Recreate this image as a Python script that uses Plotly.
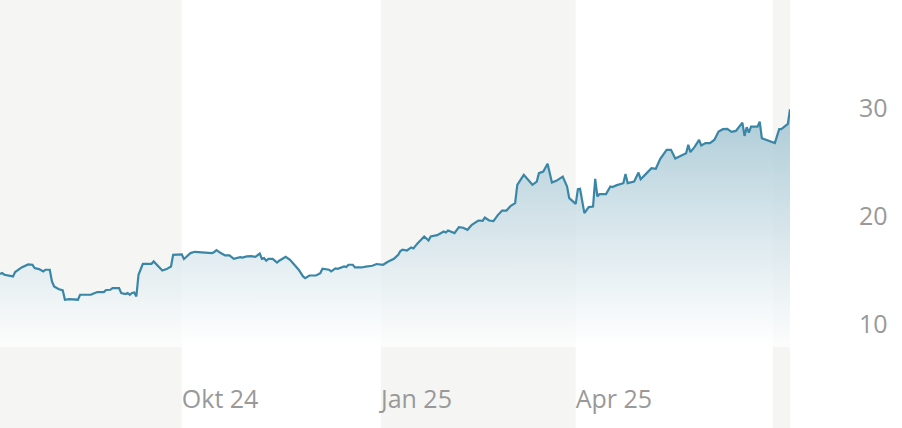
import plotly.graph_objects as go

dates = [
    "2024-07-09", "2024-07-10", "2024-07-11", "2024-07-15", "2024-07-16", "2024-07-19",
    "2024-07-22", "2024-07-24", "2024-07-25", "2024-07-27", "2024-07-29", "2024-07-30",
    "2024-08-01", "2024-08-02", "2024-08-03", "2024-08-05", "2024-08-07", "2024-08-08",
    "2024-08-10", "2024-08-13", "2024-08-14", "2024-08-15", "2024-08-18", "2024-08-20",
    "2024-08-21", "2024-08-23", "2024-08-26", "2024-08-27", "2024-08-29", "2024-08-30",
    "2024-09-02", "2024-09-03", "2024-09-05", "2024-09-06", "2024-09-07", "2024-09-08",
    "2024-09-09", "2024-09-10", "2024-09-11", "2024-09-13", "2024-09-15", "2024-09-17",
    "2024-09-18", "2024-09-21", "2024-09-22", "2024-09-24", "2024-09-26", "2024-09-27",
    "2024-09-29", "2024-10-01", "2024-10-02", "2024-10-05", "2024-10-07", "2024-10-09",
    "2024-10-12", "2024-10-15", "2024-10-16", "2024-10-17", "2024-10-19", "2024-10-21",
    "2024-10-23", "2024-10-25", "2024-10-28", "2024-10-29", "2024-10-31", "2024-11-02",
    "2024-11-04", "2024-11-06", "2024-11-07", "2024-11-08", "2024-11-09", "2024-11-10",
    "2024-11-12", "2024-11-14", "2024-11-15", "2024-11-18", "2024-11-20", "2024-11-22",
    "2024-11-24", "2024-11-26", "2024-11-27", "2024-11-29", "2024-12-02", "2024-12-04",
    "2024-12-05", "2024-12-08", "2024-12-09", "2024-12-11", "2024-12-12", "2024-12-15",
    "2024-12-16", "2024-12-17", "2024-12-19", "2024-12-20", "2024-12-23", "2024-12-25",
    "2024-12-28", "2024-12-30", "2025-01-02", "2025-01-04", "2025-01-07", "2025-01-09",
    "2025-01-10", "2025-01-11", "2025-01-13", "2025-01-15", "2025-01-16", "2025-01-18",
    "2025-01-21", "2025-01-23", "2025-01-24", "2025-01-27", "2025-01-29", "2025-01-30",
    "2025-01-31", "2025-02-01", "2025-02-04", "2025-02-06", "2025-02-08", "2025-02-10",
    "2025-02-12", "2025-02-15", "2025-02-17", "2025-02-18", "2025-02-20", "2025-02-22",
    "2025-02-24", "2025-02-26", "2025-02-28", "2025-03-02", "2025-03-04", "2025-03-05",
    "2025-03-08", "2025-03-10", "2025-03-12", "2025-03-14", "2025-03-15", "2025-03-17",
    "2025-03-19", "2025-03-21", "2025-03-23", "2025-03-26", "2025-03-28", "2025-03-29",
    "2025-04-01", "2025-04-02", "2025-04-03", "2025-04-05", "2025-04-07", "2025-04-09",
    "2025-04-10", "2025-04-11", "2025-04-12", "2025-04-15", "2025-04-17", "2025-04-18",
    "2025-04-20", "2025-04-23", "2025-04-24", "2025-04-25", "2025-04-28", "2025-04-30",
    "2025-05-01", "2025-05-03", "2025-05-06", "2025-05-08", "2025-05-10", "2025-05-13",
    "2025-05-15", "2025-05-17", "2025-05-19", "2025-05-22", "2025-05-23", "2025-05-24",
    "2025-05-26", "2025-05-28", "2025-05-29", "2025-05-31", "2025-06-02", "2025-06-04",
    "2025-06-06", "2025-06-08", "2025-06-10", "2025-06-12", "2025-06-14", "2025-06-17",
    "2025-06-18", "2025-06-19", "2025-06-20", "2025-06-21", "2025-06-24", "2025-06-25",
    "2025-06-26", "2025-06-28", "2025-07-02", "2025-07-04", "2025-07-05", "2025-07-08",
    "2025-07-09",
]

prices = [
    14.67, 14.77, 14.61, 14.45, 14.86, 15.28,
    15.56, 15.53, 15.23, 15.13, 14.91, 15.07,
    15.07, 13.99, 13.53, 13.29, 13.16, 12.30,
    12.36, 12.30, 12.30, 12.76, 12.76, 12.76,
    12.85, 13.01, 13.01, 13.20, 13.22, 13.38,
    13.38, 12.92, 12.83, 12.92, 12.76, 12.92,
    12.97, 12.60, 14.61, 15.62, 15.62, 15.62,
    15.84, 15.23, 15.00, 15.13, 15.37, 16.45,
    16.48, 16.48, 16.06, 16.61, 16.73, 16.70,
    16.70, 16.61, 16.70, 16.89, 16.61, 16.39,
    16.39, 16.08, 16.24, 16.20, 16.30, 16.33,
    16.27, 16.57, 16.08, 16.15, 15.90, 16.08,
    16.08, 15.74, 15.90, 16.27, 15.99, 15.53,
    15.07, 14.45, 14.30, 14.54, 14.54, 14.76,
    15.16, 15.07, 14.91, 15.19, 15.16, 15.37,
    15.32, 15.53, 15.53, 15.28, 15.28, 15.35,
    15.44, 15.60, 15.53, 15.78, 16.08, 16.45,
    16.80, 16.92, 16.85, 17.13, 17.04, 17.53,
    18.14, 17.77, 18.14, 18.27, 18.46, 18.61,
    18.51, 18.70, 18.46, 19.01, 18.95, 18.76,
    19.22, 19.62, 19.59, 19.90, 19.62, 19.57,
    20.12, 20.54, 20.54, 20.98, 21.23, 22.92,
    23.84, 23.38, 22.92, 23.22, 24.00, 24.15,
    24.86, 23.13, 23.29, 23.68, 22.76, 21.69,
    21.16, 22.52, 22.55, 20.30, 20.86, 20.91,
    23.47, 21.84, 22.06, 22.06, 22.76, 22.71,
    22.89, 23.07, 23.93, 23.07, 23.22, 24.05,
    23.44, 23.84, 24.46, 24.40, 25.29, 26.15,
    26.15, 25.35, 25.53, 25.84, 26.61, 25.94,
    26.45, 27.07, 26.55, 26.77, 26.77, 27.07,
    27.84, 28.06, 28.09, 27.81, 27.90, 28.67,
    27.44, 28.25, 27.75, 28.30, 28.30, 28.76,
    27.23, 27.07, 26.77, 28.06, 28.06, 28.55,
    29.91,
]

x_range = ["2024-07-09", "2025-07-09"]
y_range = [7.93, 40.0]
tick_dates = ["2024-10-01", "2025-01-01", "2025-04-01"]
tick_labels = ["Okt 24", "Jan 25", "Apr 25"]
y_ticks = [10, 20, 30]
band_starts = ["2024-07-09", "2025-01-01", "2025-07-01"]
band_ends = ["2024-10-01", "2025-04-01", "2025-07-09"]

LINE = "#3a86a6"
BAND = "#f5f5f3"
TEXT = "#999999"

fig = go.Figure()

# baseline for the area fill
fig.add_trace(go.Scatter(
    x=dates, y=[y_range[0]] * len(dates), mode="lines",
    line=dict(width=0, color="rgba(0,0,0,0)"), hoverinfo="skip", showlegend=False,
))
fig.add_trace(go.Scatter(
    x=dates, y=prices, mode="lines",
    line=dict(color=LINE, width=2.2),
    fill="tonexty",
    fillgradient=dict(
        type="vertical",
        colorscale=[[0, "rgba(255,255,255,0.75)"], [1, "rgba(160,195,209,0.88)"]],
        start=y_range[0], stop=30,
    ),
    hoverinfo="skip", showlegend=False,
))

shapes = []
for s, e in zip(band_starts, band_ends):
    shapes.append(dict(
        type="rect", xref="x", yref="paper", x0=s, x1=e, y0=-0.5, y1=1,
        fillcolor=BAND, line=dict(width=0), layer="below",
    ))

fig.update_layout(
    width=902, height=428,
    margin=dict(l=0, r=112, t=0, b=81),
    paper_bgcolor="white", plot_bgcolor="white",
    shapes=shapes,
    hovermode=False,
    font=dict(family="Open Sans", size=25, color=TEXT),
    xaxis=dict(
        range=x_range, tickvals=tick_dates, ticktext=tick_labels,
        showgrid=False, zeroline=False, showline=False, ticks="",
        ticklabelposition="outside right", ticklabelstandoff=35,
        tickfont=dict(family="Open Sans", size=25, color=TEXT),
        fixedrange=True,
    ),
    yaxis=dict(
        range=y_range, tickvals=y_ticks, side="right",
        showgrid=False, zeroline=False, showline=False, ticks="",
        ticklabelstandoff=68,
        tickfont=dict(family="Open Sans", size=25, color=TEXT),
        fixedrange=True,
    ),
)

fig.write_html(
    "out.html",
    config={"displayModeBar": False, "staticPlot": True},
    post_script="document.body.style.margin='0';document.body.style.overflow='hidden';",
)
